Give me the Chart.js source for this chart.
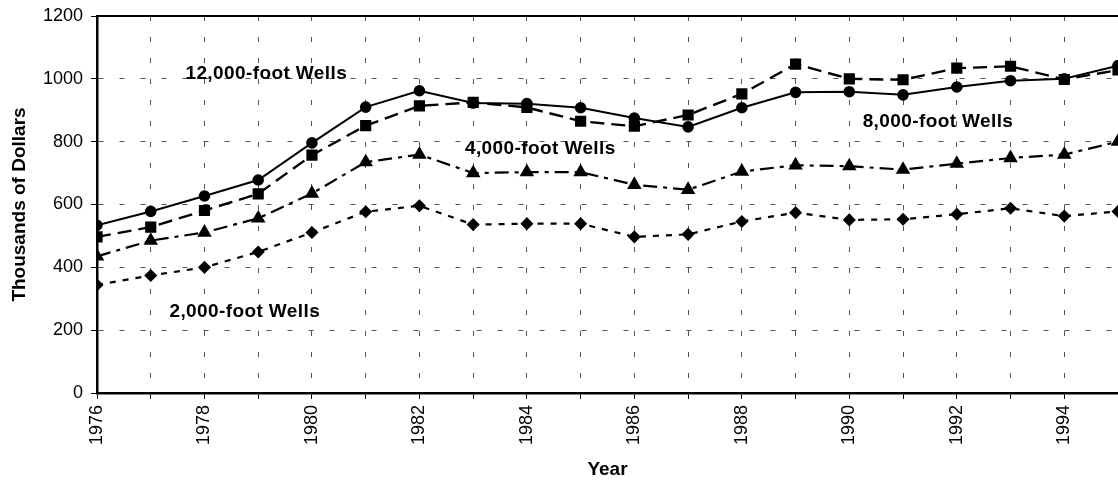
<!DOCTYPE html>
<html>
<head>
<meta charset="utf-8">
<script src="https://cdn.jsdelivr.net/npm/chart.js@4/dist/chart.umd.min.js"></script>
<style>
  html, body { margin: 0; padding: 0; background: #fff; }
</style>
</head>
<body>
<canvas id="wells-chart" width="1118" height="483"></canvas>
<script>
const years = [1976, 1977, 1978, 1979, 1980, 1981, 1982, 1983, 1984, 1985,
               1986, 1987, 1988, 1989, 1990, 1991, 1992, 1993, 1994, 1995];

// circles, solid
const wells8000 = [534, 578, 627, 678, 796, 910, 962, 923, 921, 908,
                   875, 847, 908, 957, 959, 949, 974, 994, 1000, 1042];
// squares, long dash
const wells12000 = [497, 528, 581, 634, 757, 851, 914, 925, 909, 865,
                    849, 885, 952, 1047, 1000, 997, 1034, 1040, 998, 1028];
// triangles, dash-dot
const wells4000 = [435, 485, 511, 556, 635, 735, 759, 700, 703, 703,
                   663, 647, 705, 725, 722, 711, 730, 748, 759, 800];
// diamonds, dotted
const wells2000 = [344, 374, 400, 449, 511, 577, 596, 536, 539, 539,
                   497, 505, 546, 574, 551, 553, 569, 588, 563, 578];

const xTickLabels = [1976, 1978, 1980, 1982, 1984, 1986, 1988, 1990, 1992, 1994];
const yTicks = [0, 200, 400, 600, 800, 1000, 1200];

const seriesNames = ['8,000-foot Wells', '12,000-foot Wells', '4,000-foot Wells', '2,000-foot Wells'];

// text labels placed on the plot (year, value)
const notes = [
  { text: '12,000-foot Wells', year: 1979.15, value: 1016 },
  { text: '4,000-foot Wells', year: 1984.25, value: 778 },
  { text: '8,000-foot Wells', year: 1991.65, value: 864 },
  { text: '2,000-foot Wells', year: 1978.75, value: 258 }
];

const FONT = "'Liberation Sans', Arial, sans-serif";

function toPoints(values) {
  return values.map((v, i) => ({ x: years[i], y: v }));
}

const data = {
  datasets: [
    {
      label: seriesNames[0],
      data: toPoints(wells8000),
      borderColor: '#000',
      backgroundColor: '#000',
      borderWidth: 2,
      pointStyle: 'circle',
      pointRadius: 4.8,
      tension: 0
    },
    {
      label: seriesNames[1],
      data: toPoints(wells12000),
      borderColor: '#000',
      backgroundColor: '#000',
      borderWidth: 2.4,
      borderDash: [14, 7],
      pointStyle: 'rect',
      pointRadius: 6.2,
      tension: 0
    },
    {
      label: seriesNames[2],
      data: toPoints(wells4000),
      borderColor: '#000',
      backgroundColor: '#000',
      borderWidth: 2.2,
      borderDash: [14, 6, 4, 6],
      pointStyle: 'triangle',
      pointRadius: 6.2,
      tension: 0
    },
    {
      label: seriesNames[3],
      data: toPoints(wells2000),
      borderColor: '#000',
      backgroundColor: '#000',
      borderWidth: 2.2,
      borderDash: [6, 7],
      pointStyle: 'rectRot',
      pointRadius: 5,
      tension: 0
    }
  ]
};

// top frame line + the well labels
const framePlugin = {
  id: 'frame',
  afterDatasetsDraw(chart) {
    const { ctx, chartArea, scales } = chart;
    ctx.save();
    ctx.strokeStyle = '#000';
    ctx.lineWidth = 2;
    ctx.beginPath();
    ctx.moveTo(chartArea.left, chartArea.top);
    ctx.lineTo(chartArea.right, chartArea.top);
    ctx.stroke();

    ctx.fillStyle = '#000';
    ctx.font = 'bold 19px ' + FONT;
    ctx.letterSpacing = '0.4px';
    ctx.textAlign = 'center';
    ctx.textBaseline = 'middle';
    notes.forEach(n => {
      ctx.fillText(n.text, scales.x.getPixelForValue(n.year), scales.y.getPixelForValue(n.value));
    });
    ctx.restore();
  }
};

const config = {
  type: 'line',
  data: data,
  options: {
    responsive: false,
    animation: false,
    devicePixelRatio: 1,
    layout: { autoPadding: false, padding: { top: 16, right: 0, left: 8, bottom: 2 } },
    plugins: {
      legend: { display: false },
      tooltip: { enabled: false }
    },
    scales: {
      x: {
        type: 'linear',
        min: years[0],
        max: years[years.length - 1],
        ticks: {
          stepSize: 1,
          autoSkip: false,
          minRotation: 90,
          maxRotation: 90,
          color: '#000',
          padding: 6,
          font: { family: FONT, size: 18 },
          callback: v => xTickLabels.includes(v) ? String(v) : ''
        },
        grid: {
          color: '#555',
          lineWidth: 1,
          tickLength: 6,
          tickColor: '#000',
          drawTicks: true
        },
        border: { display: true, color: '#000', width: 2.5, dash: [5, 16] },
        title: {
          display: true,
          text: 'Year',
          color: '#000',
          font: { family: FONT, size: 19, weight: 'bold' },
          padding: { top: 10, bottom: 0 }
        },
        afterFit(scale) {
          scale.height = 88;
          scale.paddingRight = 0;
          scale.paddingLeft = 0;
        }
      },
      y: {
        min: 0,
        max: 1200,
        afterBuildTicks(scale) { scale.ticks = yTicks.map(v => ({ value: v })); },
        ticks: {
          color: '#000',
          padding: 8,
          font: { family: FONT, size: 18 },
          callback: v => String(v)
        },
        grid: {
          color: '#555',
          lineWidth: 1,
          tickLength: 6,
          tickColor: '#000'
        },
        border: { display: true, color: '#000', width: 2.5, dash: [5, 16] },
        title: {
          display: true,
          text: 'Thousands of Dollars',
          color: '#000',
          font: { family: FONT, size: 19, weight: 'bold' },
          padding: { top: 0, bottom: 6 }
        },
        afterFit(scale) {
          scale.width = 89;
          scale.paddingTop = 0;
          scale.paddingBottom = 0;
        }
      }
    }
  },
  plugins: [framePlugin]
};

const chart = new Chart(document.getElementById('wells-chart'), config);
</script>
</body>
</html>
